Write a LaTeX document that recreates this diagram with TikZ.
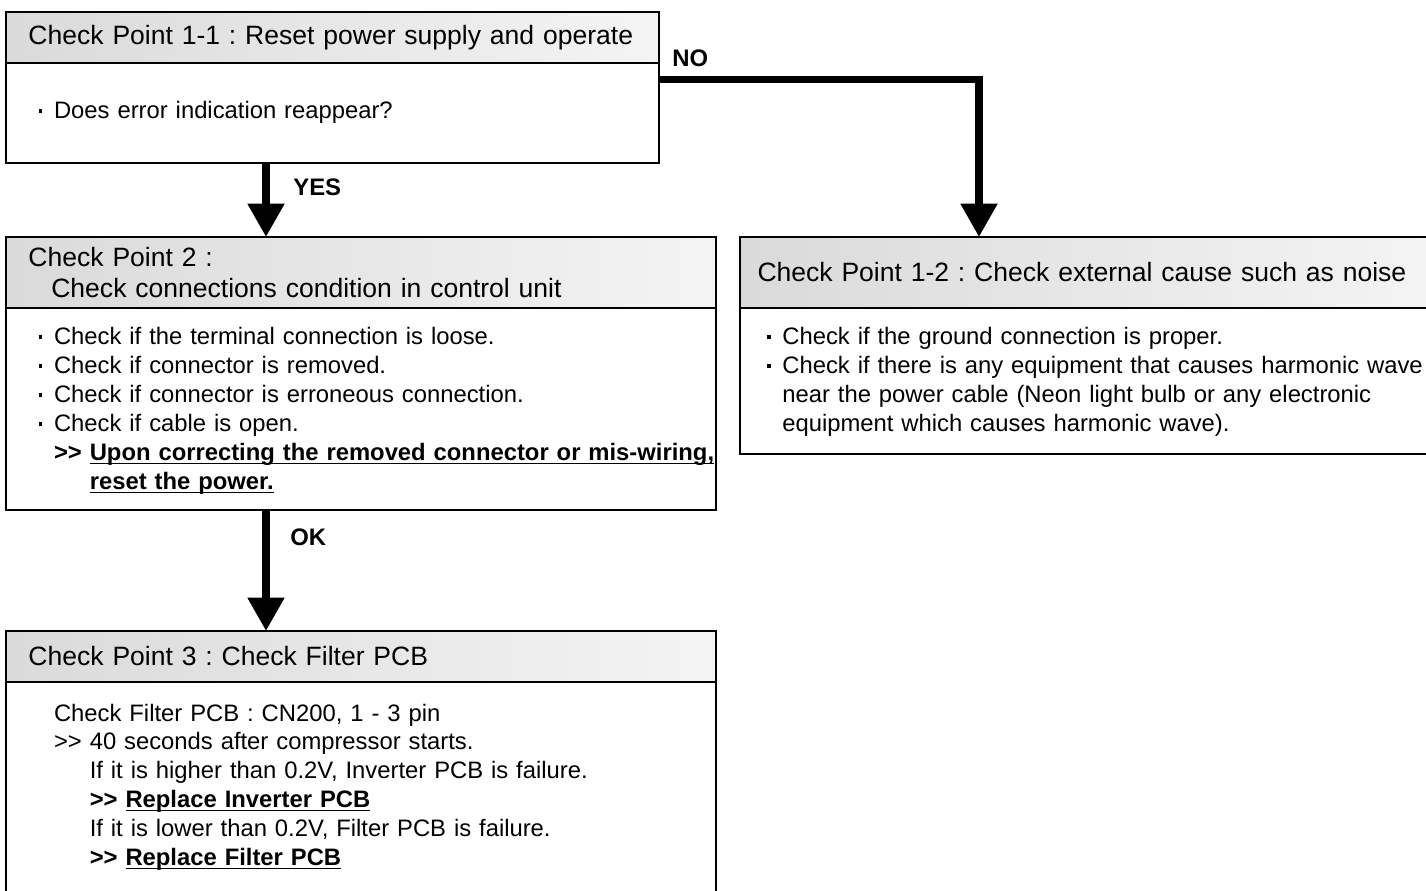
\documentclass[tikz,border=0pt]{standalone}
\usepackage{fontspec}
\setmainfont{Liberation Sans}
\usepackage{xcolor}
\definecolor{chkInk}{HTML}{000000}
\definecolor{chkHeadL}{HTML}{DADADA}
\definecolor{chkHeadR}{HTML}{F4F4F4}
\usepackage{tikz}
\usetikzlibrary{positioning, arrows.meta, calc}
\frenchspacing

\newcommand{\sqdot}{\leavevmode\llap{\raisebox{0.26em}{\rule{2pt}{2pt}}\hspace{6.6pt}}}
\newcommand{\gap}{\phantom{>{}> }}
\newcommand{\bgap}{\phantom{\textbf{>{}> }}}
\newcommand{\uline}[1]{\underline{\smash{#1}}}

\begin{document}
\begin{tikzpicture}[
  x=0.02cm, y=-0.02cm,
  node distance = 0pt,
  headbox/.style = {rectangle, draw=chkInk, line width=0.85pt, outer sep=0pt,
                    left color=chkHeadL, right color=chkHeadR,
                    anchor=north west, align=left, inner xsep=0.45cm,
                    inner ysep=2pt, font=\fontsize{15.1}{17.6}\selectfont},
  bodybox/.style = {rectangle, draw=chkInk, line width=0.85pt, outer sep=0pt,
                    fill=white},
  bodytext/.style = {anchor=base west, inner sep=0pt, align=left,
                     text width=13.6cm,
                     font=\fontsize{13.55}{16.45}\selectfont},
  arrow/.style = {-{Triangle[width=20pt, length=19pt]}, line width=4.4pt,
                  color=chkInk},
  flowlabel/.style = {font=\fontsize{13.6}{16}\selectfont\bfseries,
                      anchor=west, inner sep=0pt},
]
\useasboundingbox (0,0) rectangle (1426,891);

% Check point 1-1
\node[headbox, minimum width=13.06cm, text width=12.16cm,
      minimum height=1.02cm] (cp11head) at (6,12)
      {Check Point 1-1 : Reset power supply and operate};
\node[bodybox, below=of cp11head, minimum width=13.06cm,
      minimum height=2.0cm] (cp11body) {};
\node[bodytext] (cp11text) at (53.7,119)
      {\sqdot Does error indication reappear?};

% Check point 2
\node[headbox, minimum width=14.2cm, text width=13.3cm,
      minimum height=1.42cm] (cp2head) at (6,237)
      {Check Point 2 :\\\hspace*{13pt}Check connections condition in control unit};
\node[bodybox, below=of cp2head, minimum width=14.2cm,
      minimum height=4.04cm] (cp2body) {};
\node[bodytext] (cp2text) at (53.7,345)
      {\sqdot Check if the terminal connection is loose.\\
       \sqdot Check if connector is removed.\\
       \sqdot Check if connector is erroneous connection.\\
       \sqdot Check if cable is open.\\
       \textbf{>{}> \uline{Upon correcting the removed connector or mis-wiring,}}\\
       \bgap\textbf{\uline{reset the power.}}};

% Check point 1-2
\node[headbox, minimum width=13.84cm, text width=13.14cm, inner xsep=0.35cm,
      minimum height=1.42cm] (cp12head) at (740,237)
      {Check Point 1-2 : Check external cause such as noise};
\node[bodybox, below=of cp12head, minimum width=13.84cm,
      minimum height=2.92cm] (cp12body) {};
\node[bodytext] (cp12text) at (782,345)
      {\sqdot Check if the ground connection is proper.\\
       \sqdot Check if there is any equipment that causes harmonic wave\\
       near the power cable (Neon light bulb or any electronic\\
       equipment which causes harmonic wave).};

% Check point 3
\node[headbox, minimum width=14.2cm, text width=13.3cm,
      minimum height=1.02cm] (cp3head) at (6,631)
      {Check Point 3 : Check Filter PCB};
\node[bodybox, below=of cp3head, minimum width=14.2cm,
      minimum height=4.32cm] (cp3body) {};
\node[bodytext] (cp3text) at (53.7,721)
      {Check Filter PCB : CN200, 1 - 3 pin\\
       >{}> 40 seconds after compressor starts.\\
       \gap If it is higher than 0.2V, Inverter PCB is failure.\\
       \gap\textbf{>{}> \uline{Replace Inverter PCB}}\\
       \gap If it is lower than 0.2V, Filter PCB is failure.\\
       \gap\textbf{>{}> \uline{Replace Filter PCB}}};

% Arrows
\coordinate (trunk) at (266,0);
\coordinate (branch) at (979,0);
\draw[arrow] (cp11body.south -| trunk) -- (cp2head.north -| trunk);
\draw[arrow] (cp2body.south -| trunk) -- (cp3head.north -| trunk);
\draw[arrow] ([yshift=-0.33cm]cp11body.north east) -| (cp12head.north -| branch);

% Labels
\node[flowlabel] (yeslbl) at (293,187) {YES};
\node[flowlabel] (nolbl) at (672,58.5) {NO};
\node[flowlabel] (oklbl) at (290,537) {OK};

\end{tikzpicture}
\end{document}
